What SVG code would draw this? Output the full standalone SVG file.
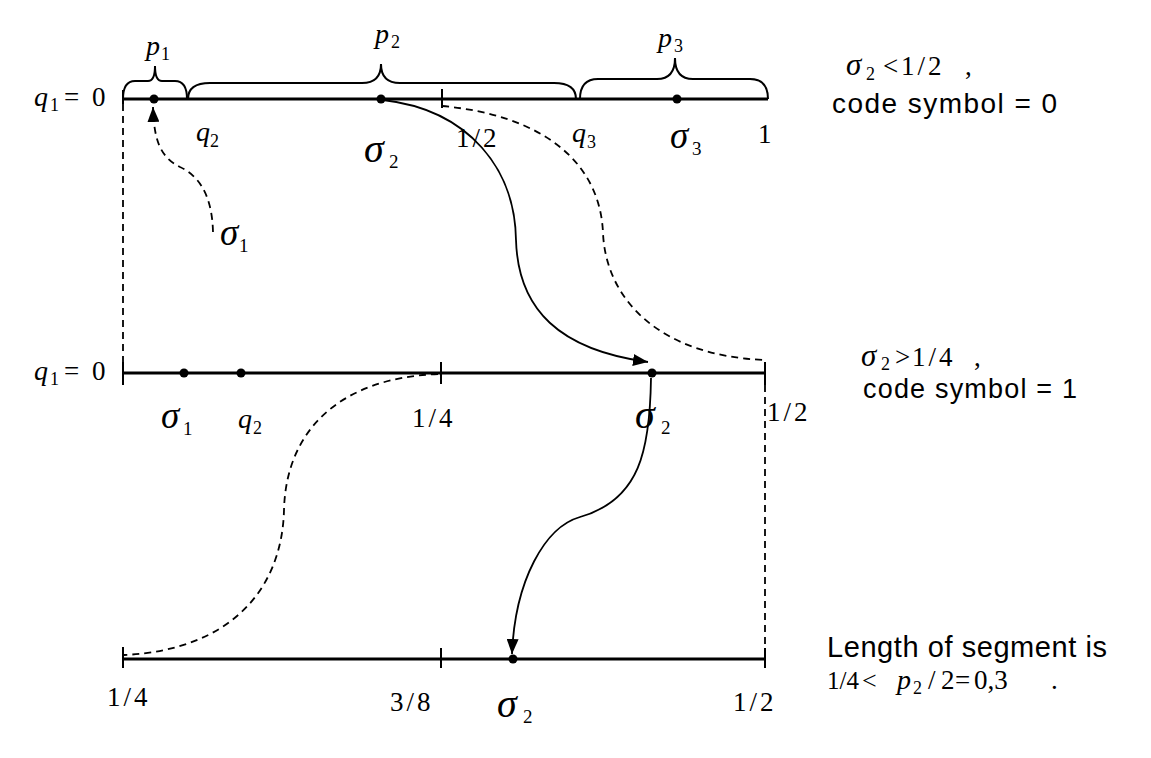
<svg xmlns="http://www.w3.org/2000/svg" width="1151" height="758" viewBox="0 0 1151 758">
<style>
.axis{stroke:#000;stroke-width:2.8;fill:none}
.tick{stroke:#000;stroke-width:2;fill:none}
.brace{stroke:#000;stroke-width:2;fill:none}
.dot{fill:#000}
.solid{stroke:#000;stroke-width:1.8;fill:none}
.dash{stroke:#000;stroke-width:1.8;fill:none;stroke-dasharray:7 5}
.m{font-family:"Liberation Serif","Times New Roman",serif;fill:#000}
.it{font-style:italic}
.fr{letter-spacing:3px}
.s{font-family:"Liberation Sans",Arial,sans-serif;fill:#000}
</style>
<defs>
<marker id="ah" markerUnits="userSpaceOnUse" markerWidth="16" markerHeight="12" refX="15" refY="6" orient="auto">
<path d="M0,0 L15,6 L0,12 z" fill="#000"/>
</marker>
</defs>
<rect width="1151" height="758" fill="#fff"/>

<g id="line-top">
<line class="axis" x1="123" y1="99" x2="768" y2="99"/>
<line class="tick" x1="123" y1="90" x2="123" y2="104"/>
<line class="tick" x1="442" y1="89" x2="442" y2="108"/>
<path class="brace" d="M123,99 Q123,81 135,81 L148,81 Q155,81 155,66 Q155,81 162,81 L175,81 Q187,81 187,99"/>
<path class="brace" d="M188,99 Q188,83 210,83 L362,83 Q381,83 381,64 Q381,83 400,83 L554,83 Q576,83 576,99"/>
<path class="brace" d="M580,99 Q580,79 598,79 L657,79 Q675,79 675,58 Q675,79 693,79 L750,79 Q768,79 768,99"/>
<circle class="dot" cx="154" cy="99" r="4.5"/>
<circle class="dot" cx="381" cy="99" r="4.5"/>
<circle class="dot" cx="677" cy="99" r="4.5"/>
</g>

<g id="line-mid">
<line class="axis" x1="123" y1="373" x2="765" y2="373"/>
<line class="tick" x1="123" y1="362" x2="123" y2="385"/>
<line class="tick" x1="441" y1="362" x2="441" y2="384"/>
<line class="tick" x1="765" y1="362" x2="765" y2="385"/>
<circle class="dot" cx="184" cy="373" r="4.5"/>
<circle class="dot" cx="241" cy="373" r="4.5"/>
<circle class="dot" cx="652" cy="373" r="4.5"/>
</g>

<g id="line-bot">
<line class="axis" x1="123" y1="659" x2="765" y2="659"/>
<line class="tick" x1="123" y1="647" x2="123" y2="668"/>
<line class="tick" x1="441" y1="648" x2="441" y2="668"/>
<line class="tick" x1="765" y1="648" x2="765" y2="668"/>
<circle class="dot" cx="513" cy="659" r="4.5"/>
</g>

<g id="connectors">
<line class="dash" x1="123" y1="104" x2="123" y2="372"/>
<line class="dash" x1="765" y1="385" x2="765" y2="659"/>
<path class="dash" d="M442,106 C540,115 600,160 603,233 C606,300 660,356 765,360"/>
<path class="dash" d="M438,374 C340,378 286,430 284,510 C282,590 230,650 124,655"/>
<path class="dash" d="M213,232 C212,190 195,174 180,167 C160,157 154,140 153,107" marker-end="url(#ah)"/>
<path class="solid" d="M383,100 C470,110 515,170 516,240 C518,310 560,350 648,362" marker-end="url(#ah)"/>
<path class="solid" d="M651,378 C650,450 640,500 580,517 C545,527 515,580 512,654" marker-end="url(#ah)"/>
</g>

<g id="labels-top">
<text class="m it" x="34" y="106" font-size="28">q</text>
<text class="m" x="50" y="111" font-size="18">1</text>
<text class="m" x="64" y="106" font-size="27">=</text>
<text class="m" x="92" y="106" font-size="27">0</text>
<text class="m it" x="146" y="55" font-size="28">p</text>
<text class="m" x="161" y="60" font-size="18">1</text>
<text class="m it" x="375" y="43" font-size="28">p</text>
<text class="m" x="391" y="48" font-size="18">2</text>
<text class="m it" x="658" y="47" font-size="28">p</text>
<text class="m" x="674" y="52" font-size="18">3</text>
<text class="m it" x="196" y="141" font-size="28">q</text>
<text class="m" x="210" y="147" font-size="18">2</text>
<text class="m it" x="364" y="162" font-size="40">σ</text>
<text class="m" x="389" y="168" font-size="19">2</text>
<text class="m fr" x="456" y="147" font-size="27">1/2</text>
<text class="m it" x="572" y="142" font-size="28">q</text>
<text class="m" x="587" y="148" font-size="18">3</text>
<text class="m it" x="670" y="148" font-size="37">σ</text>
<text class="m" x="692" y="155" font-size="19">3</text>
<text class="m" x="758" y="143" font-size="27">1</text>
<text class="m it" x="220" y="245" font-size="37">σ</text>
<text class="m" x="239" y="252" font-size="19">1</text>
</g>

<g id="labels-mid">
<text class="m it" x="34" y="380" font-size="28">q</text>
<text class="m" x="50" y="385" font-size="18">1</text>
<text class="m" x="64" y="380" font-size="27">=</text>
<text class="m" x="92" y="380" font-size="27">0</text>
<text class="m it" x="161" y="428" font-size="37">σ</text>
<text class="m" x="183" y="435" font-size="19">1</text>
<text class="m it" x="238" y="428" font-size="28">q</text>
<text class="m" x="253" y="434" font-size="18">2</text>
<text class="m fr" x="412" y="427" font-size="27">1/4</text>
<text class="m it" x="635" y="428" font-size="40">σ</text>
<text class="m" x="661" y="434" font-size="19">2</text>
<text class="m fr" x="767" y="421" font-size="27">1/2</text>
</g>

<g id="labels-bot">
<text class="m fr" x="107" y="706" font-size="27">1/4</text>
<text class="m fr" x="390" y="711" font-size="27">3/8</text>
<text class="m it" x="497" y="717" font-size="40">σ</text>
<text class="m" x="523" y="723" font-size="19">2</text>
<text class="m fr" x="733" y="711" font-size="27">1/2</text>
</g>

<g id="note-top">
<text class="m it" x="846" y="75" font-size="31">σ</text>
<text class="m" x="866" y="80" font-size="18">2</text>
<text class="m" x="883" y="75" font-size="27">&lt;</text>
<text class="m fr" x="901" y="75" font-size="27">1/2</text>
<text class="m" x="965" y="75" font-size="27">,</text>
<text class="s" x="832" y="113" font-size="28" textLength="225" lengthAdjust="spacing">code symbol = 0</text>
</g>

<g id="note-mid">
<text class="m it" x="861" y="366" font-size="31">σ</text>
<text class="m" x="881" y="370" font-size="18">2</text>
<text class="m" x="895" y="366" font-size="27">&gt;</text>
<text class="m fr" x="912" y="366" font-size="27">1/4</text>
<text class="m" x="974" y="366" font-size="27">,</text>
<text class="s" x="863" y="398" font-size="27" textLength="214" lengthAdjust="spacing">code symbol = 1</text>
</g>

<g id="note-bot">
<text class="s" x="827" y="657" font-size="29" textLength="280" lengthAdjust="spacing">Length of segment is</text>
<text class="m" x="827" y="689" font-size="25">1/4</text>
<text class="m" x="862" y="689" font-size="26">&lt;</text>
<text class="m it" x="897" y="689" font-size="28">p</text>
<text class="m" x="913" y="694" font-size="18">2</text>
<text class="m" x="928" y="689" font-size="27">/</text>
<text class="m" x="941" y="689" font-size="27">2</text>
<text class="m" x="955" y="689" font-size="27">=</text>
<text class="m" x="974" y="689" font-size="27">0,3</text>
<text class="m" x="1051" y="689" font-size="27">.</text>
</g>
</svg>
